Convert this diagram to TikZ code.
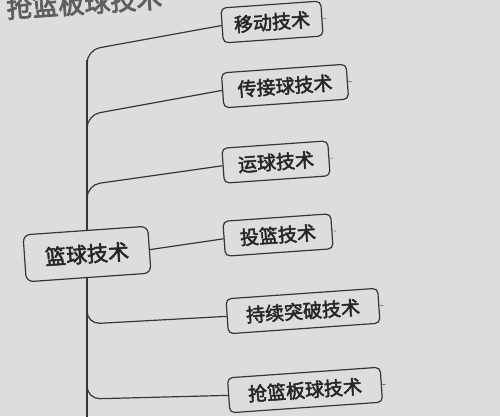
\documentclass[tikz,border=0pt]{standalone}
\usepackage{fontspec}
\newfontfamily\cjk[FakeBold=2.5]{Noto Sans CJK SC}
\newfontfamily\cjkhdr[FakeBold=3]{Noto Sans CJK SC}
\definecolor{bgc}{HTML}{DDDDDB}
\definecolor{linec}{HTML}{363636}
\definecolor{textc}{HTML}{262626}
\definecolor{fadec}{HTML}{5E5E5E}
\begin{document}
\begin{tikzpicture}[x=1pt,y=-1pt,
  box/.style={draw=linec, line width=1.2pt, rounded corners=5pt, fill=bgc,
    font=\cjk\fontsize{19}{19}\selectfont, text=textc, rotate=4,
    inner sep=0pt, minimum height=35pt},
  rootbox/.style={box, font=\cjk\fontsize{21}{21}\selectfont, minimum height=47pt, rounded corners=7pt},
  conn/.style={draw=linec, line width=1.2pt, rounded corners=13pt},
  stub/.style={draw=linec!70, line width=0.6pt}]
\fill[bgc] (0,0) rectangle (500,416);
\useasboundingbox (0,0) rectangle (500,416);
\node[text=fadec, font=\cjkhdr\fontsize{26}{26}\selectfont, rotate=4, anchor=south west] (hdr) at (4,24) {抢篮板球技术};
% trunk
\coordinate (ttop) at (87,60);
\coordinate (tbot) at (87,420);
\draw[conn] (ttop) -- (tbot);
% leaves
\node[box, minimum width=100pt] (m1) at (272,22) {移动技术};
\node[box, minimum width=125pt] (m2) at (285,86) {传接球技术};
\node[box, minimum width=106pt] (m3) at (276,162) {运球技术};
\node[box, minimum width=108pt] (m4) at (278,235) {投篮技术};
\node[box, minimum width=152pt] (m5) at (303,311) {持续突破技术};
\node[box, minimum width=153pt] (m6) at (305,390) {抢篮板球技术};
\node[rootbox, minimum width=125pt] (r) at (87,254) {篮球技术};
% branches
\coordinate (b1) at (87,72);
\coordinate (b2) at (87,136);
\coordinate (b3) at (87,206);
\coordinate (b5) at (87,300);
\coordinate (b6) at (87,374);
\draw[conn] (m1.west) -- (87,50) -- (b1);
\draw[conn] (m2.west) -- (87,115) -- (b2);
\draw[conn] (m3.west) -- (87,185) -- (b3);
\draw[conn] (r.east) -- (m4.west);
\draw[conn] (b5) -- (87,324) -- (m5.west);
\draw[conn] (b6) -- (87,399) -- (m6.west);
% small stubs
\foreach \n in {m1,m2,m3,m4,m5,m6}{
  \draw[stub] (\n.east) -- ++(4,-0.3);
}
\end{tikzpicture}
\end{document}
